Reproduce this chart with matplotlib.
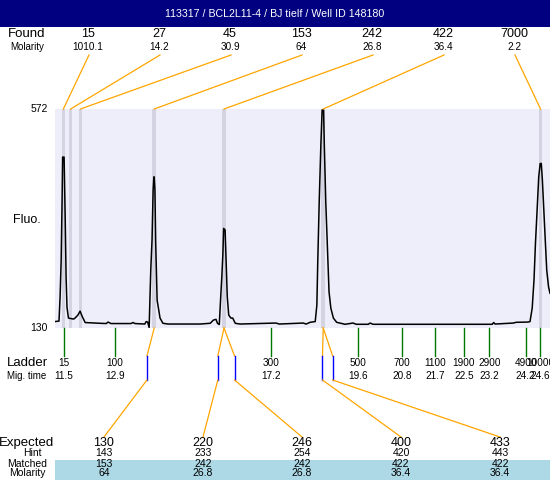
import matplotlib
matplotlib.use("Agg")
import matplotlib.pyplot as plt
from matplotlib.patches import Rectangle

plt.rcParams["font.family"] = ["Liberation Sans", "DejaVu Sans"]

TITLE = "113317 / BCL2L11-4 / BJ tielf / Well ID 148180"

# electropherogram trace: migration time (min) and fluorescence
trace_time = [
    11.25, 11.36, 11.39, 11.42, 11.445, 11.46, 11.50, 11.53, 11.555, 11.58,
    11.62, 11.76, 11.80, 11.88, 11.94, 12.00, 12.08, 12.49, 12.66, 12.71,
    12.79, 13.34, 13.40, 13.45, 13.72, 13.76, 13.80, 13.84, 13.885, 13.92,
    13.95, 13.97, 13.98, 14.00, 14.02, 14.06, 14.105, 14.14, 14.22, 14.36,
    15.24, 15.52, 15.61, 15.68, 15.72, 15.77, 15.81, 15.84, 15.87, 15.89,
    15.93, 15.96, 15.99, 16.03, 16.09, 16.14, 16.21, 16.34, 17.33, 17.42,
    18.08, 18.16, 18.27, 18.41, 18.455, 18.48, 18.52, 18.565, 18.60, 18.64,
    18.66, 18.70, 18.75, 18.79, 18.84, 18.91, 19.00, 19.23, 19.45, 19.54,
    19.87, 19.92, 20.00, 23.28, 23.32, 23.36, 23.86, 23.94, 24.27, 24.32,
    24.38, 24.43, 24.47, 24.52, 24.56, 24.60, 24.63, 24.66, 24.70, 24.74,
    24.78, 24.83, 24.87,
]
trace_fluo = [
    143, 144, 193, 267, 388, 475, 475, 354, 233, 172,
    150, 148, 150, 156, 164, 153, 141, 139.5, 139, 142,
    139, 139, 141, 139, 138, 143, 142, 131, 247, 308,
    408, 435, 435, 408, 304, 186, 166, 150, 139.5, 138,
    138, 139.5, 146, 147.5, 139.5, 137, 193, 233, 281, 331,
    328, 261, 193, 156, 150, 150, 139.5, 138, 140, 138,
    140, 138, 141.5, 143, 176, 264, 385, 499, 570, 570,
    499, 385, 284, 203, 170, 150, 141.5, 137.5, 140, 137.5,
    137.5, 140, 137.5, 137.5, 141, 138, 140, 141.5, 142, 143,
    170, 227, 301, 375, 435, 462, 462, 429, 368, 307,
    247, 213, 200,
]

ladder_size = ["15", "100", "300", "500", "700", "1100", "1900", "2900", "4900", "10000"]
ladder_time = [11.5, 12.9, 17.2, 19.6, 20.8, 21.7, 22.5, 23.2, 24.2, 24.6]

found_size = ["15", "27", "45", "153", "242", "422", "7000"]
found_molarity = ["1010.1", "14.2", "30.9", "64", "26.8", "36.4", "2.2"]
found_time = [11.48, 11.68, 11.95, 13.98, 15.90, 18.63, 24.61]

expected_size = ["130", "220", "246", "400", "433"]
expected_time = [13.78, 15.73, 16.19, 18.61, 18.89]
hint_size = ["143", "233", "254", "420", "443"]
matched_size = ["153", "242", "242", "422", "422"]
matched_molarity = ["64", "26.8", "26.8", "36.4", "36.4"]
matched_peak = [3, 4, 4, 5, 5]

NAVY = "#000080"
LAVENDER = "#EEEEFB"
BAND = "#D3D3E1"
ORANGE = "#FFA500"
GREEN = "#007800"
BLUE = "#0000FF"
LIGHTBLUE = "#ADD8E6"

W, H = 550, 480
L, T, R, B = 55, 109, 550, 328


def main():
    fig = plt.figure(figsize=(W / 100, H / 100), dpi=100)
    fig.patch.set_facecolor("white")

    ax = fig.add_axes([L / W, 1 - B / H, (R - L) / W, (B - T) / H])
    ax.set_facecolor(LAVENDER)
    ax.set_xlim(11.25, 24.87)
    ax.set_ylim(130, 572)
    ax.set_xticks([])
    ax.set_yticks([])
    for s in ax.spines.values():
        s.set_visible(False)

    for t in found_time:
        ax.axvspan(t - 0.05, t + 0.05, color=BAND, lw=0)
    ax.plot(trace_time, trace_fluo, color="black", lw=1.1)

    # overlay in pixel coordinates for labels and connectors
    ov = fig.add_axes([0, 0, 1, 1])
    ov.set_xlim(0, W)
    ov.set_ylim(H, 0)
    ov.axis("off")

    def px(t):
        return ax.transData.transform((t, 130))[0]

    ov.add_patch(Rectangle((0, 0), W, 27, color=NAVY, lw=0))
    ov.text(W / 2, 14, TITLE, color="white", fontsize=7.7, ha="center", va="center")

    # found peaks
    ov.text(27, 34, "Found", fontsize=9.5, ha="center", va="center")
    ov.text(27, 47, "Molarity", fontsize=7, ha="center", va="center")
    for i, (size, mol, t) in enumerate(zip(found_size, found_molarity, found_time)):
        xl = 88 + 71 * i
        ov.text(xl, 34, size, fontsize=9, ha="center", va="center")
        ov.text(xl, 47, mol, fontsize=7.2, ha="center", va="center")
        ov.plot([xl + 1, px(t)], [55, T], color=ORANGE, lw=0.9)

    # y labels
    ov.text(48, T, "572", fontsize=7.5, ha="right", va="center")
    ov.text(48, B, "130", fontsize=7.5, ha="right", va="center")
    ov.text(27, 220, "Fluo.", fontsize=9, ha="center", va="center")

    # ladder
    ov.text(27, 363, "Ladder", fontsize=9.5, ha="center", va="center")
    ov.text(27, 376, "Mig. time", fontsize=7, ha="center", va="center")
    for size, t in zip(ladder_size, ladder_time):
        x = px(t)
        ov.plot([x, x], [B, 356], color=GREEN, lw=1)
        ov.text(x, 363, size, fontsize=7.2, ha="center", va="center")
        ov.text(x, 376, f"{t:g}", fontsize=7.2, ha="center", va="center")

    # expected / matched table
    ov.add_patch(Rectangle((L, 460), R - L, 20, color=LIGHTBLUE, lw=0))
    ov.text(27, 443, "Expected", fontsize=9.5, ha="center", va="center")
    ov.text(32, 453, "Hint", fontsize=7.5, ha="center", va="center")
    ov.text(27, 464, "Matched", fontsize=7.5, ha="center", va="center")
    ov.text(27, 473, "Molarity", fontsize=7.5, ha="center", va="center")
    for j in range(len(expected_size)):
        xb = px(expected_time[j])
        xm = px(found_time[matched_peak[j]])
        xe = 104 + 99 * j
        ov.plot([xm, xb], [B, 356], color=ORANGE, lw=0.9)
        ov.plot([xb, xb], [356, 380], color=BLUE, lw=1)
        ov.plot([xb, xe], [380, 437], color=ORANGE, lw=0.9)
        ov.text(xe, 443, expected_size[j], fontsize=9, ha="center", va="center")
        ov.text(xe, 453, hint_size[j], fontsize=7.5, ha="center", va="center")
        ov.text(xe, 464, matched_size[j], fontsize=7.5, ha="center", va="center")
        ov.text(xe, 473, matched_molarity[j], fontsize=7.5, ha="center", va="center")

    fig.savefig("out.png", dpi=100)
    plt.close(fig)


if __name__ == "__main__":
    main()
